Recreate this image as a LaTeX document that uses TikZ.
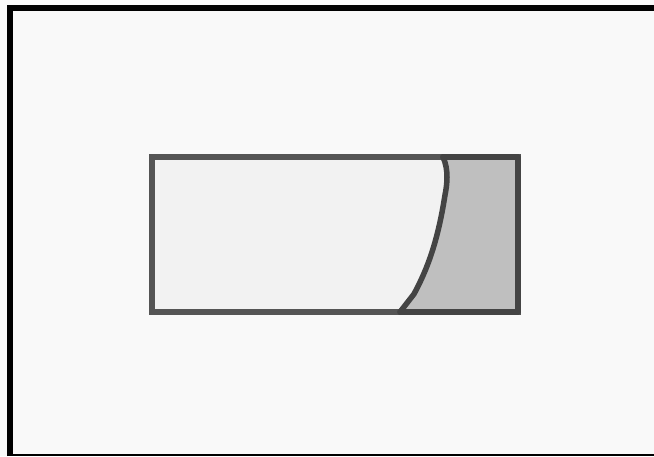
\documentclass[tikz,border=0pt]{standalone}
\definecolor{bgc}{HTML}{F9F9F9}
\definecolor{lightfill}{HTML}{F2F2F2}
\definecolor{darkfill}{HTML}{BFBFBF}
\definecolor{edgeL}{HTML}{555555}
\definecolor{edgeR}{HTML}{444444}
\definecolor{baseline}{HTML}{B0B0B0}
\tikzset{
  frameline/.style={line width=6.5pt, black},
  boxedge/.style={line width=5.5pt, edgeL, line join=miter},
  cutedge/.style={line width=5.5pt, edgeR, line join=round, line cap=round},
}
\begin{document}
\begin{tikzpicture}[x=1pt,y=-1pt]
\useasboundingbox (0,0) rectangle (654,456);
\fill[bgc] (0,0) rectangle (654,456);
% outer frame (top and left), faint bottom line
\draw[baseline, line width=1.5pt] (10,455.2) -- (654,455.2);
\draw[frameline] (10,456) -- (10,8) -- (654,8);
% bar
\coordinate (tl) at (152,157);
\coordinate (br) at (518,312);
\fill[lightfill] (tl) rectangle (br);
\fill[darkfill] (443,157) .. controls (449,170) and (447,185) .. (445,195)
   .. controls (438,240) and (428,268) .. (414,294) -- (400,312) -- (518,312) -- (518,157) -- cycle;
\draw[boxedge] (tl) rectangle (br);
\draw[cutedge] (443,157) -- (518,157) -- (518,312) -- (400,312);
\draw[cutedge] (443,157) .. controls (449,170) and (447,185) .. (445,195)
   .. controls (438,240) and (428,268) .. (414,294) -- (400,312);
\end{tikzpicture}
\end{document}
